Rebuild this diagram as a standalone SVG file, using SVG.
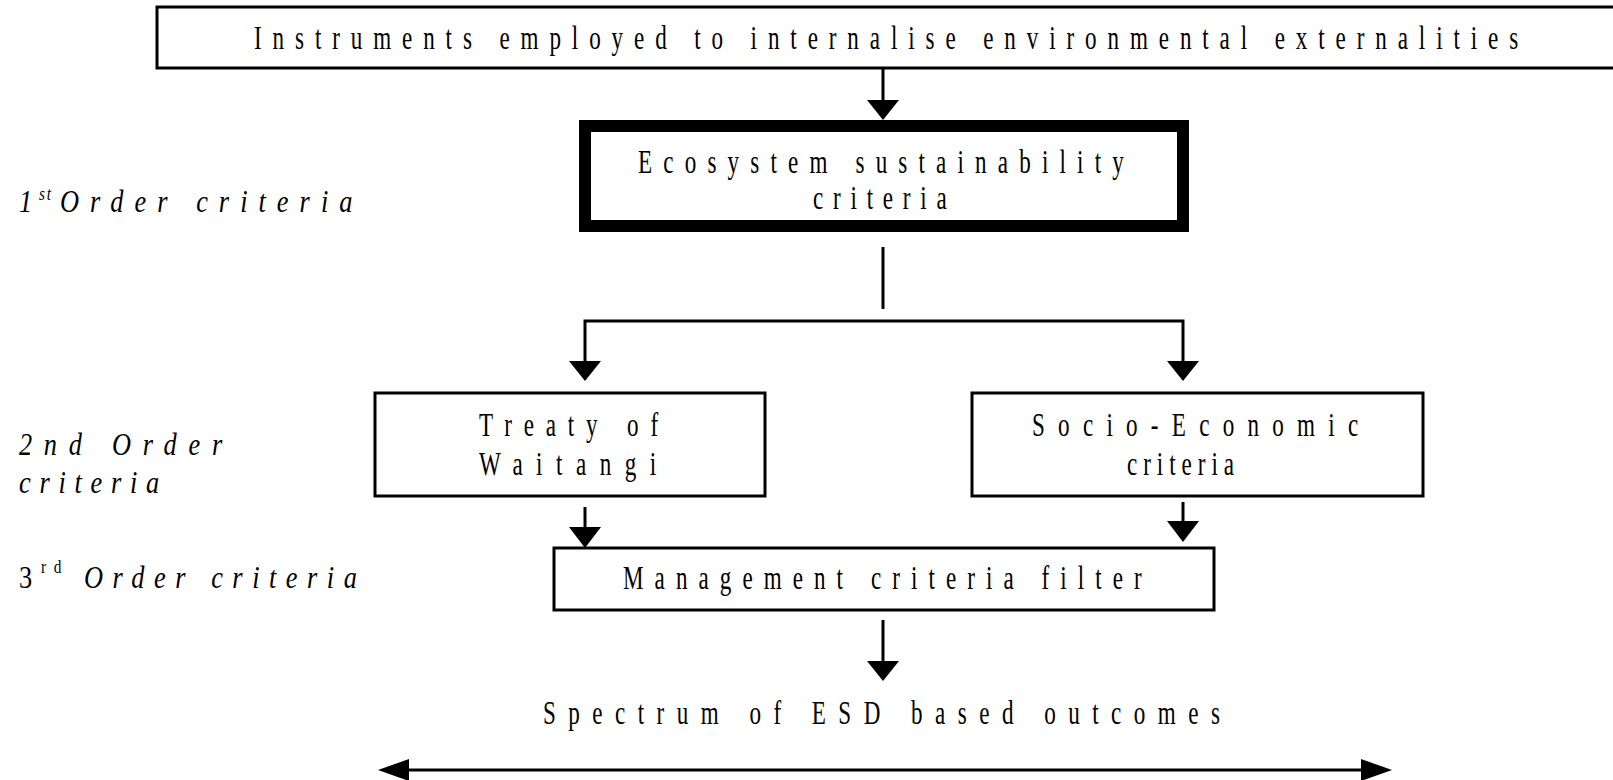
<svg xmlns="http://www.w3.org/2000/svg" width="1613" height="780" viewBox="0 0 1613 780">
<style>
.box{fill:#fff;stroke:#000;stroke-width:3}
.thick{fill:#fff;stroke:#000;stroke-width:12}
.ln{stroke:#000;stroke-width:3;fill:none}
.hd{fill:#000;stroke:none}
.t{font-family:"Liberation Serif","Times New Roman",serif;font-size:33px;fill:#000}
.i{font-family:"Liberation Serif","Times New Roman",serif;font-size:31px;font-style:italic;fill:#000}
.r{font-family:"Liberation Serif","Times New Roman",serif;font-size:31px;fill:#000}
.sup{font-family:"Liberation Serif","Times New Roman",serif;font-size:18px;fill:#000}
</style>
<rect width="1613" height="780" fill="#fff"/>
<g id="connectors">
<line class="ln" x1="883" y1="68" x2="883" y2="102"/>
<polygon class="hd" points="867,100 899,100 883,120"/>
<line class="ln" x1="883" y1="247" x2="883" y2="309"/>
<polyline class="ln" points="585,363 585,321 1183,321 1183,363"/>
<polygon class="hd" points="569,361 601,361 585,381"/>
<polygon class="hd" points="1167,361 1199,361 1183,381"/>
<line class="ln" x1="585" y1="507" x2="585" y2="529"/>
<polygon class="hd" points="569,527 601,527 585,548"/>
<line class="ln" x1="1183" y1="502" x2="1183" y2="523"/>
<polygon class="hd" points="1167,521 1199,521 1183,542"/>
<line class="ln" x1="883" y1="620" x2="883" y2="663"/>
<polygon class="hd" points="867,661 899,661 883,681"/>
<line class="ln" x1="400" y1="770" x2="1370" y2="770" stroke-width="4"/>
<polygon class="hd" points="378,770 409,759 409,781"/>
<polygon class="hd" points="1392,770 1361,759 1361,781"/>
</g>
<g id="node-instruments">
<rect class="box" x="157" y="7" width="1500" height="61"/>
<text class="t" transform="matrix(0.7 0 0 1 254 49)" textLength="1806" lengthAdjust="spacing">Instruments employed to internalise environmental externalities</text>
</g>
<g id="node-ecosystem">
<rect class="thick" x="585" y="126" width="598" height="100"/>
<text class="t" transform="matrix(0.7 0 0 1 638 173)" textLength="694" lengthAdjust="spacing">Ecosystem sustainability</text>
<text class="t" transform="matrix(0.7 0 0 1 813 209)" textLength="191" lengthAdjust="spacing">criteria</text>
</g>
<g id="node-treaty">
<rect class="box" x="375" y="393" width="390" height="103"/>
<text class="t" transform="matrix(0.7 0 0 1 479 436)" textLength="256" lengthAdjust="spacing">Treaty of</text>
<text class="t" transform="matrix(0.7 0 0 1 479 475)" textLength="253" lengthAdjust="spacing">Waitangi</text>
</g>
<g id="node-socio">
<rect class="box" x="972" y="393" width="451" height="103"/>
<text class="t" transform="matrix(0.7 0 0 1 1032 436)" textLength="466" lengthAdjust="spacing">Socio-Economic</text>
<text class="t" transform="matrix(0.7 0 0 1 1127 475)" textLength="153" lengthAdjust="spacing">criteria</text>
</g>
<g id="node-management">
<rect class="box" x="554" y="548" width="660" height="62"/>
<text class="t" transform="matrix(0.7 0 0 1 623 589)" textLength="741" lengthAdjust="spacing">Management criteria filter</text>
</g>
<g id="node-spectrum">
<text class="t" transform="matrix(0.7 0 0 1 543 724)" textLength="967" lengthAdjust="spacing">Spectrum of ESD based outcomes</text>
</g>
<g id="label-first">
<text class="i" transform="matrix(0.85 0 0 1 19 212)">1</text>
<text class="sup" font-style="italic" transform="matrix(0.85 0 0 1 39 200)" textLength="14" lengthAdjust="spacing">st</text>
<text class="i" transform="matrix(0.85 0 0 1 60 212)" textLength="344" lengthAdjust="spacing">Order criteria</text>
</g>
<g id="label-second">
<text class="i" transform="matrix(0.85 0 0 1 19 455)" textLength="239" lengthAdjust="spacing">2nd Order</text>
<text class="i" transform="matrix(0.85 0 0 1 19 493)" textLength="165" lengthAdjust="spacing">criteria</text>
</g>
<g id="label-third">
<text class="r" transform="matrix(0.85 0 0 1 19 588)">3</text>
<text class="sup" transform="matrix(0.85 0 0 1 41 573)" textLength="24" lengthAdjust="spacing">rd</text>
<text class="i" transform="matrix(0.85 0 0 1 84 588)" textLength="321" lengthAdjust="spacing">Order criteria</text>
</g>
</svg>
